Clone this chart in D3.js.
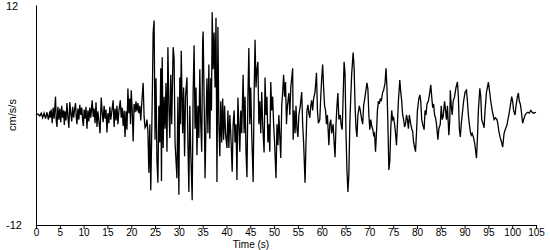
<!DOCTYPE html>
<html>
<head>
<meta charset="utf-8">
<script src="https://cdn.jsdelivr.net/npm/d3@7"></script>
<style>
body { margin: 0; background: #fff; }
text { font-family: "Liberation Sans", Arial, sans-serif; font-size: 11px; fill: #000; }
.tick text { font-size: 10px; }
.xtitle { font-size: 10px; }
</style>
</head>
<body>
<svg width="550" height="250"></svg>
<script>
// accelerogram, [time (s), acceleration (cm/s/s)]
var onset = [[0,0],[0.4,0.1],[0.8,-0.1],[1.1,0.2],[1.4,-0.3],[1.7,0.2],[2.0,-0.4],[2.3,0.3],[2.6,-0.5],[2.9,0.4]];

var earlyWaves = [[3.0,-0.3],[3.2,0.6],[3.4,-0.9],[3.6,0.8],[3.8,-0.4],[4.0,1.2],[4.1,2.0],[4.25,-0.6],[4.4,-1.3],
  [4.6,0.9],[4.8,-0.5],[5.0,0.7],[5.2,-0.8],[5.4,1.0],[5.6,-0.3],[5.8,0.5],[5.95,-1.1],[6.1,0.4],[6.3,-0.6],
  [6.5,1.3],[6.7,-0.2],[6.9,-1.4],[7.1,1.4],[7.3,0.2],[7.5,-0.7],[7.7,0.9],[7.9,-0.3],[8.1,0.6],[8.3,1.3],
  [8.45,-0.2],[8.6,-1.0],[8.8,0.7],[9.0,-0.5],[9.2,1.1],[9.4,0.0],[9.6,0.8],[9.8,-0.6],[9.95,-1.2],[10.1,0.6],
  [10.3,-0.4],[10.5,0.9],[10.7,-1.5],[10.9,0.5],[11.1,-0.7],[11.3,0.8],[11.5,-0.3],[11.8,1.6],[12.0,-0.2],
  [12.2,0.7],[12.4,-0.9],[12.6,1.4],[12.8,-1.3],[13.0,0.4],[13.2,-0.6],[13.45,-2.0],[13.7,1.9],[13.9,0.3],
  [14.1,-0.8],[14.3,1.0],[14.5,-0.4],[14.7,0.6],[14.9,-1.9],[15.1,0.2],[15.3,-0.9],[15.5,0.9],[15.7,-0.5],
  [15.9,0.3],[16.2,1.6],[16.4,-1.3],[16.6,0.7],[16.8,-0.6],[17.0,1.0],[17.2,-1.0],[17.4,0.4],[17.7,1.6],
  [17.9,-0.3],[18.1,0.8],[18.3,-1.2],[18.5,0.5],[18.7,-2.4],[18.9,0.4],[19.1,-1.6]];

var buildUp = [[19.3,2.9],[19.5,0.2],[19.7,1.8],[19.85,-1.0],[20.0,2.7],[20.2,0.6],[20.4,-2.9],[20.6,1.2],
  [20.8,0.3],[21.0,1.5],[21.2,0.4],[21.4,1.3],[21.6,0.2],[21.8,1.0],[22.0,-0.6],[22.2,1.2],[22.5,3.5],
  [22.7,-0.2],[22.9,-1.4],[23.1,-1.2],[23.3,-0.5],[23.5,-1.8]];

var strongMotion = [[23.7,-6.3],[23.9,-1.0],[24.1,-8.2],[24.3,-2.0],[24.45,3.0],[24.6,9.0],[24.8,10.3],[25.0,-2.7],
  [25.2,4.0],[25.4,-5.0],[25.6,-7.4],[25.8,1.0],[26.0,-3.0],[26.2,5.1],[26.35,-7.2],[26.5,6.3],[26.7,-3.6],
  [26.9,2.0],[27.1,-1.5],[27.3,3.5],[27.5,-4.0],[27.7,7.4],[27.9,1.0],[28.1,-2.5],[28.3,4.4],[28.5,-1.0],
  [28.8,7.4],[29.0,6.2],[29.2,-3.0],[29.4,-5.0],[29.6,-6.9],[29.8,2.0],[30.0,-8.7],[30.2,4.1],[30.35,-1.0],
  [30.5,7.0],[30.8,-2.0],[31.0,3.0],[31.2,-4.5],[31.4,2.0],[31.7,4.1],[31.9,-3.0],[32.1,-8.4],[32.3,1.0],
  [32.5,-4.0],[32.8,-9.3],[33.0,2.5],[33.2,7.6],[33.4,-1.5],[33.6,3.0],[33.8,-4.4],[34.0,1.0],[34.2,-2.5],
  [34.4,5.0],[34.6,-1.0],[34.8,-4.0],[35.0,8.0],[35.1,9.1],[35.3,2.0],[35.5,-6.9],[35.7,-1.0],[35.9,4.0],
  [36.1,-2.0],[36.3,5.5],[36.5,-2.6],[36.7,4.0],[36.85,0.5],[37.0,11.2],[37.2,5.0],[37.4,9.0],[37.6,3.0],
  [37.8,10.6],[38.0,-7.3],[38.2,9.6],[38.4,-1.0],[38.6,-4.5],[38.8,1.5],[39.0,-3.0],[39.2,1.8],[39.4,-2.7],
  [39.6,1.0],[39.8,-2.0],[40.1,-3.6],[40.3,0.5],[40.5,-3.6],[40.7,0.0],[40.9,-2.0],[41.2,-6.2],[41.4,-1.0],
  [41.6,0.5],[41.8,-3.0],[42.0,-1.0],[42.2,-7.1],[42.4,1.9],[42.6,-1.0],[42.8,-4.0],[43.0,0.5],[43.2,-2.0],
  [43.5,4.4],[43.7,-2.0],[43.9,2.0],[44.1,-4.0],[44.3,-6.8],[44.5,2.0],[44.7,7.3],[44.9,-1.0],[45.1,3.0]];

var laterWaves = [[45.3,-2.0],[45.6,-7.3],[45.8,2.0],[46.0,8.2],[46.2,3.0],[46.4,5.0],[46.6,5.8],[46.8,-1.0],
  [47.0,1.5],[47.2,-2.0],[47.4,2.5],[47.6,-1.0],[47.9,-4.1],[48.1,4.1],[48.3,0.0],[48.5,2.0],[48.7,-3.0],
  [48.9,-1.0],[49.1,-4.0],[49.3,3.6],[49.5,0.5],[49.7,2.0],[49.9,-1.0],[50.1,-3.0],[50.4,-6.9],[50.6,-1.0],
  [50.8,-3.3],[51.0,0.0],[51.4,-4.7],[51.6,1.0],[51.8,2.5],[52.0,4.4],[52.2,2.0],[52.4,3.6],[52.6,-1.0],
  [52.8,1.0],[53.1,2.4],[53.3,0.0],[53.5,3.0],[53.7,4.0],[53.9,5.1],[54.0,-2.7],[54.2,0.5],[54.4,-2.0],
  [54.6,1.0],[54.8,-1.5],[55.0,-2.4],[55.2,0.0],[55.5,1.0],[55.8,2.5],[56.0,-1.0],[56.2,-3.0],[56.5,-7.4],
  [56.7,-3.0],[56.9,0.5],[57.1,1.1],[57.3,0.2],[57.5,-0.3],[57.7,1.0],[57.9,1.6],[58.1,0.5],[58.3,1.8],
  [58.6,2.5],[58.9,4.6],[59.1,0.5],[59.3,-0.9],[59.6,-0.5],[59.8,2.0],[60.0,4.0],[60.2,5.5],[60.4,3.0],
  [60.6,1.0],[60.8,0.5],[61.0,-1.0],[61.2,0.0],[61.5,-3.3],[61.7,-1.0],[61.9,-0.5],[62.1,-2.0],[62.4,-1.0],
  [62.6,-3.0],[62.8,-4.6],[63.0,-1.0],[63.2,1.0],[63.4,2.4],[63.6,-0.5],[63.9,0.0],[64.1,-1.2],[64.3,-1.6],
  [64.5,2.0],[64.7,5.8],[64.9,4.5],[65.1,-2.0],[65.3,-6.0],[65.5,-8.4],[65.7,-6.5],[65.9,-1.0],[66.1,2.0],
  [66.3,4.5],[66.6,6.8],[66.8,5.2],[67.0,1.0],[67.2,-1.4],[67.4,-2.4]];

var coda = [[67.6,0.0],[67.9,1.0],[68.1,0.5],[68.4,-0.5],[68.6,-1.0],[68.8,1.0],[69.1,2.0],[69.5,3.5],[69.7,2.8],
  [69.9,0.0],[70.1,-1.6],[70.3,-0.5],[70.5,-1.2],[70.7,-1.5],[70.9,-2.2],[71.1,-2.0],[71.3,-4.0],[71.5,-2.0],
  [71.7,0.5],[71.9,1.5],[72.1,1.2],[72.3,1.8],[72.5,1.5],[72.8,2.5],[73.0,2.7],[73.3,3.5],[73.5,5.1],[73.7,3.0],
  [73.9,-1.0],[74.1,-6.0],[74.3,-5.0],[74.5,-1.5],[74.7,0.5],[74.9,-0.5],[75.1,-0.3],[75.3,-1.0],[75.5,-2.0],
  [75.7,-3.3],[75.9,-1.0],[76.1,1.5],[76.4,3.8],[76.6,2.5],[76.8,1.5],[77.0,0.0],[77.2,-0.5],[77.4,-1.3],
  [77.6,-1.0],[77.8,0.0],[78.0,-0.5],[78.2,-1.5],[78.4,0.0],[78.7,-1.0],[78.9,-1.5],[79.1,-1.8],[79.3,-3.0],
  [79.5,-3.5],[79.7,-4.0],[79.9,-2.0],[80.1,0.5],[80.4,1.8],[80.6,2.2],[80.8,1.5],[81.0,-0.5],[81.2,-1.0],
  [81.5,-1.6],[81.7,0.5],[81.9,0.0],[82.1,1.2],[82.4,1.5],[82.7,2.5],[82.9,3.3],[83.1,2.0],[83.3,0.8],
  [83.5,1.2],[83.7,0.0],[83.9,-0.3],[84.1,-1.0],[84.4,-2.7],[84.6,-1.5],[84.9,-1.0],[85.1,1.0],[85.3,-0.5],
  [85.5,-0.2],[85.8,1.5],[86.0,0.5],[86.2,-0.5],[86.4,1.0],[86.7,-2.2],[86.9,-0.5],[87.0,2.7],[87.2,1.0],
  [87.4,0.0],[87.6,1.5],[87.9,2.0],[88.2,3.0],[88.5,3.6],[88.7,2.0],[88.9,-1.5],[89.1,-2.4],[89.3,-1.0],
  [89.5,0.0],[89.8,1.5],[90.1,2.5],[90.4,2.7],[90.6,1.5],[90.8,0.0],[91.0,-1.0],[91.2,-1.8],[91.4,-2.2],
  [91.6,-2.0],[91.9,-2.5],[92.1,-3.0],[92.3,-3.8],[92.5,-4.7],[92.7,-2.5],[92.9,0.5],[93.2,2.9],[93.4,2.0],
  [93.6,-0.5],[93.9,-1.0],[94.1,-1.4],[94.3,0.5],[94.6,2.5],[94.8,3.0],[95.0,3.6],[95.2,2.8],[95.5,1.5],
  [95.8,0.5],[96.0,0.0],[96.2,-0.5],[96.5,-0.3],[96.8,-0.5],[97.0,-1.0],[97.2,-1.8],[97.5,-2.5],[97.8,-3.0],
  [98.0,-3.5],[98.3,-2.0],[98.6,-1.5],[98.9,-1.1],[99.1,-0.5],[99.3,0.0],[99.6,1.0],[99.9,2.0],[100.1,1.5],
  [100.3,0.5],[100.6,0.0],[100.8,1.0],[101.1,2.0],[101.3,2.4],[101.5,1.5],[101.7,1.2],[101.9,0.5],[102.2,-0.9],
  [102.4,-0.5],[102.7,0.0],[103.0,0.2],[103.3,0.3],[103.6,0.2],[103.9,0.5],[104.2,0.3],[104.5,0.2],[105.0,0.3]];

var xTicks = [0,5,10,15,20,25,30,35,40,45,50,55,60,65,70,75,80,85,90,95,100,105];
var yLabels = [12, -12];
var xTitle = "Time (s)", yTitle = "cm/s/s";

var trace = onset.concat(earlyWaves, buildUp, strongMotion, laterWaves, coda);

var svg = d3.select("svg");
var x = d3.scaleLinear().domain([0, 105]).range([36, 536]);
var y = d3.scaleLinear().domain([-12, 12]).range([225, 5]);

// x axis
var xAxis = svg.append("g")
    .attr("transform", "translate(0,225)")
    .call(d3.axisBottom(x).tickValues(xTicks).tickSize(4).tickPadding(0).tickSizeOuter(0));
xAxis.attr("font-family", null).attr("font-size", null);
xAxis.selectAll("path, line").attr("stroke", "#000");

// y axis: just the line, labels sit at the left edge
var yAxis = svg.append("g")
    .attr("transform", "translate(36,0)")
    .call(d3.axisLeft(y).tickValues([]).tickSizeOuter(0));
yAxis.select("path").attr("stroke", "#000");

svg.selectAll(".ylab")
    .data(yLabels)
    .enter().append("text")
    .attr("class", "ylab")
    .attr("x", 6)
    .attr("y", function(d) { return y(d) + (d > 0 ? 1 : 0); })
    .attr("dy", "0.35em")
    .text(function(d) { return d; });

svg.append("text")
    .attr("class", "xtitle")
    .attr("x", 251)
    .attr("y", 247.6)
    .attr("text-anchor", "middle")
    .text(xTitle);

svg.append("text")
    .attr("transform", "translate(16,115) rotate(-90)")
    .attr("text-anchor", "middle")
    .text(yTitle);

var line = d3.line()
    .x(function(d) { return x(d[0]); })
    .y(function(d) { return y(d[1]); });

svg.append("path")
    .datum(trace)
    .attr("fill", "none")
    .attr("stroke", "#000")
    .attr("stroke-width", 1.3)
    .attr("d", line);
</script>
</body>
</html>
